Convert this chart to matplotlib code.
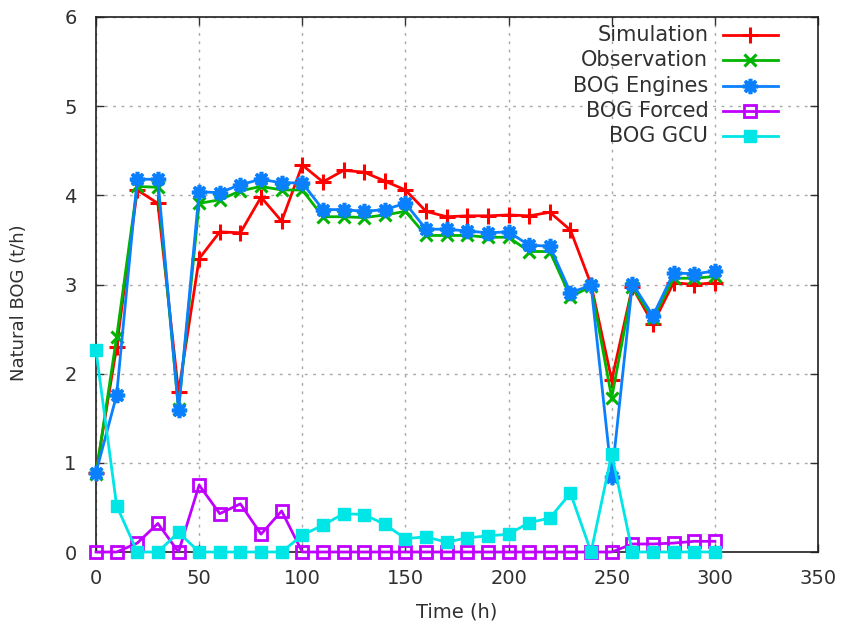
import matplotlib
matplotlib.use("Agg")
import matplotlib.pyplot as plt
from matplotlib.lines import Line2D

time_h = list(range(0, 301, 10))

simulation = [0.89, 2.30, 4.06, 3.91, 1.79, 3.29, 3.59, 3.58, 3.98, 3.71,
              4.34, 4.15, 4.28, 4.26, 4.16, 4.06, 3.82, 3.76, 3.77, 3.77,
              3.78, 3.77, 3.81, 3.61, 3.00, 1.93, 2.97, 2.56, 3.02, 3.00, 3.02]
observation = [0.87, 2.41, 4.10, 4.09, 1.60, 3.91, 3.95, 4.05, 4.10, 4.06,
               4.06, 3.76, 3.76, 3.75, 3.78, 3.82, 3.55, 3.55, 3.55, 3.53,
               3.53, 3.37, 3.37, 2.86, 2.98, 1.73, 2.97, 2.62, 3.07, 3.07, 3.09]
bog_engines = [0.89, 1.76, 4.18, 4.18, 1.59, 4.04, 4.03, 4.12, 4.18, 4.14,
               4.14, 3.84, 3.84, 3.82, 3.84, 3.91, 3.62, 3.62, 3.60, 3.58,
               3.59, 3.44, 3.43, 2.91, 2.99, 0.84, 3.01, 2.65, 3.13, 3.12, 3.15]
bog_forced = [0.0, 0.0, 0.10, 0.32, 0.0, 0.75, 0.43, 0.54, 0.20, 0.46,
              0.0, 0.0, 0.0, 0.0, 0.0, 0.0, 0.0, 0.0, 0.0, 0.0,
              0.0, 0.0, 0.0, 0.0, 0.0, 0.0, 0.09, 0.09, 0.10, 0.12, 0.12]
bog_gcu = [2.26, 0.52, 0.0, 0.0, 0.22, 0.0, 0.0, 0.0, 0.0, 0.0,
           0.19, 0.30, 0.43, 0.42, 0.31, 0.15, 0.17, 0.11, 0.16, 0.18,
           0.20, 0.33, 0.38, 0.66, 0.0, 1.10, 0.0, 0.0, 0.0, 0.0, 0.0]

x_ticks = [0, 50, 100, 150, 200, 250, 300, 350]
y_ticks = [0, 1, 2, 3, 4, 5, 6]

plt.rcParams['font.family'] = ['DejaVu Sans']

fig = plt.figure(figsize=(8.42, 6.30), dpi=100)
ax = fig.add_axes([96/842, 1 - 552/630, 722/842, 535/630])

series = [
    ("Simulation", simulation, "#ff0000", dict(marker="+", ms=11, mew=2.2, mfc="#ff0000")),
    ("Observation", observation, "#00b400", dict(marker="x", ms=8, mew=2.2, mfc="#00b400")),
    ("BOG Engines", bog_engines, "#0a80ff", dict(marker=(8, 2, 0), ms=11, mew=2.6, mfc="#0a80ff")),
    ("BOG Forced", bog_forced, "#c000ff", dict(marker="s", ms=8, mew=2.0, mfc="none")),
    ("BOG GCU", bog_gcu, "#00e5e5", dict(marker="s", ms=9, mew=1.0, mfc="#00e5e5")),
]

lw = 2.0
for label, vals, color, mk in series:
    ax.plot(time_h, vals, color=color, lw=lw, mec=color, clip_on=False, zorder=3, **mk)

ax.set_xlim(0, 350)
ax.set_ylim(0, 6)
ax.set_xticks(x_ticks)
ax.set_yticks(y_ticks)
ax.grid(True, color="#a8a8a8", linestyle=(0, (2, 4)), linewidth=1.0)
ax.set_axisbelow(True)
for sp in ax.spines.values():
    sp.set_color("#202020")
    sp.set_linewidth(1.2)
ax.tick_params(direction="in", length=6, width=1.0, top=True, right=True,
               labelsize=14, colors="#303030")
ax.tick_params(axis="x", pad=12)
ax.tick_params(axis="y", pad=14)
ax.set_xlabel("Time (h)", fontsize=14, color="#303030", labelpad=11)
ax.set_ylabel("Natural BOG (t/h)", fontsize=13, color="#303030")

# legend (gnuplot style: right-aligned text, sample to the right)
y0 = 1 - (35 - 17) / 535
dy = 25.3 / 535
for i, (label, vals, color, mk) in enumerate(series):
    y = y0 - i * dy
    ax.text(0.848, y, label, transform=ax.transAxes, ha="right", va="center",
            fontsize=15, color="#303030", zorder=5)
    ax.add_line(Line2D([0.868, 0.945], [y, y], transform=ax.transAxes,
                       color=color, lw=lw, clip_on=False, zorder=5))
    ax.add_line(Line2D([0.906], [y], transform=ax.transAxes, color=color,
                       lw=0, mec=color, clip_on=False, zorder=5, **mk))

# place y label like the reference (centre at ~x=20px, y=303px)
ax.yaxis.set_label_coords(-(96 - 28) / 722, (552 - 303) / 535)

fig.savefig("out.png", dpi=100)
